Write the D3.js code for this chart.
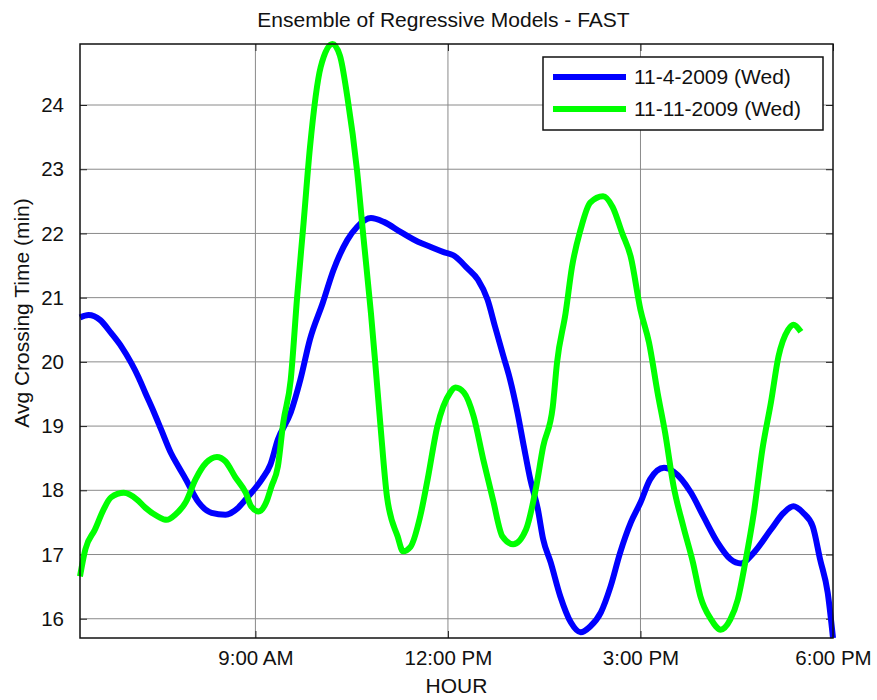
<!DOCTYPE html>
<html>
<head>
<meta charset="utf-8">
<script src="https://cdn.jsdelivr.net/npm/d3@7/dist/d3.min.js"></script>
<style>
  html, body { margin: 0; padding: 0; background: #fff; }
  svg { display: block; font-family: "Liberation Sans", Arial, Helvetica, sans-serif; }
</style>
</head>
<body>
<svg id="chart" width="877" height="700"></svg>
<script>
// Average crossing time, 11-4-2009 (Wed)
const timesNov4 = [
  "6:16","6:24","6:35","6:45","6:55","7:04","7:11","7:17","7:25","7:32",
  "7:41","7:48","7:55","8:07","8:19","8:32","8:44","8:53","9:06","9:14",
  "9:21","9:33","9:42","9:51","10:03","10:13","10:26","10:35","10:48","11:00",
  "11:16","11:32","11:44","11:56","12:05","12:18","12:28","12:37","12:44","12:52",
  "12:58","13:05","13:11","13:17","13:24","13:29","13:36","13:45","13:55","14:04",
  "14:13","14:23","14:32","14:41","14:51","15:00","15:09","15:22","15:31","15:47",
  "15:59","16:12","16:24","16:34","16:46","17:02","17:14","17:23","17:32","17:41",
  "17:48","17:55","18:00"
];
const valuesNov4 = [
  20.69,20.73,20.65,20.45,20.23,19.98,19.75,19.52,19.22,18.94,
  18.58,18.37,18.17,17.81,17.65,17.62,17.73,17.90,18.17,18.40,
  18.79,19.21,19.72,20.35,20.92,21.43,21.90,22.10,22.24,22.18,
  22.02,21.87,21.79,21.71,21.66,21.46,21.28,20.97,20.55,20.08,
  19.73,19.21,18.68,18.17,17.71,17.24,16.88,16.35,15.94,15.79,
  15.88,16.10,16.50,17.03,17.50,17.81,18.17,18.35,18.29,17.97,
  17.59,17.19,16.93,16.86,17.03,17.39,17.65,17.75,17.65,17.44,
  16.92,16.41,15.70
];

// Average crossing time, 11-11-2009 (Wed)
const timesNov11 = [
  "6:16","6:21","6:30","6:38","6:45","6:57","7:09","7:17","7:29","7:37",
  "7:45","7:55","8:04","8:14","8:24","8:32","8:41","8:51","8:56","9:03",
  "9:10","9:15","9:21","9:26","9:33","9:39","9:45","9:51","10:01","10:12",
  "10:19","10:26","10:35","10:41","10:48","10:52","10:57","11:03","11:13","11:18",
  "11:25","11:34","11:41","11:50","12:02","12:07","12:15","12:24","12:33","12:42",
  "12:51","13:01","13:13","13:22","13:29","13:38","13:42","13:50","13:56","14:04",
  "14:13","14:25","14:34","14:43","14:51","15:00","15:08","15:16","15:23","15:31",
  "15:40","15:49","15:56","16:06","16:15","16:24","16:31","16:38","16:46","16:54",
  "17:02","17:09","17:18","17:23","17:30"
];
const valuesNov11 = [
  16.66,17.08,17.39,17.70,17.89,17.96,17.86,17.73,17.59,17.54,
  17.62,17.82,18.17,18.43,18.52,18.45,18.21,17.96,17.75,17.67,
  17.81,18.06,18.37,19.05,19.72,21.01,22.16,23.34,24.59,24.95,
  24.77,24.12,22.98,21.94,20.76,19.99,18.99,17.90,17.28,17.05,
  17.12,17.59,18.17,18.99,19.52,19.60,19.52,19.15,18.48,17.86,
  17.28,17.16,17.39,18.01,18.68,19.30,19.99,20.76,21.48,22.06,
  22.48,22.58,22.41,22.00,21.63,20.81,20.30,19.52,18.90,18.06,
  17.44,16.88,16.35,15.99,15.83,15.99,16.30,16.88,17.65,18.64,
  19.37,20.08,20.50,20.58,20.47
];

const seriesNames = ["11-4-2009 (Wed)", "11-11-2009 (Wed)"];
const seriesColors = ["#0000ff", "#00ff00"];

const xTickHours = [9, 12, 15, 18];
const xTickLabels = ["9:00 AM", "12:00 PM", "3:00 PM", "6:00 PM"];
const yTicks = [16, 17, 18, 19, 20, 21, 22, 23, 24];

const titleText = "Ensemble of Regressive Models - FAST";
const xLabelText = "HOUR";
const yLabelText = "Avg Crossing Time (min)";

// clock string -> decimal hours
const toHours = s => { const [h, m] = s.split(":").map(Number); return h + m / 60; };

const series = [
  { name: seriesNames[0], color: seriesColors[0],
    points: timesNov4.map((t, i) => ({ x: toHours(t), y: valuesNov4[i] })) },
  { name: seriesNames[1], color: seriesColors[1],
    points: timesNov11.map((t, i) => ({ x: toHours(t), y: valuesNov11[i] })) }
];

const svg = d3.select("#chart");
const margin = { left: 80, right: 44, top: 44, bottom: 62 };
const W = 877, H = 700;
const pw = W - margin.left - margin.right;
const ph = H - margin.top - margin.bottom;

const allY = valuesNov4.concat(valuesNov11);
const x = d3.scaleLinear().domain([toHours(timesNov4[0]), 18]).range([0, pw]);
const y = d3.scaleLinear().domain([d3.min(allY), d3.max(allY)]).range([ph, 0]);

const g = svg.append("g").attr("transform", `translate(${margin.left},${margin.top})`);

// grid
g.append("g").selectAll("line").data(yTicks).join("line")
  .attr("x1", 0).attr("x2", pw)
  .attr("y1", d => y(d)).attr("y2", d => y(d))
  .attr("stroke", "#8a8a8a").attr("stroke-width", 1);
g.append("g").selectAll("line").data(xTickHours.filter(h => x(h) < pw - 1)).join("line")
  .attr("x1", d => x(d)).attr("x2", d => x(d))
  .attr("y1", 0).attr("y2", ph)
  .attr("stroke", "#8a8a8a").attr("stroke-width", 1);

// axes: inward ticks on all four sides
const tickLen = 7;
const fontSize = 21;
const tickFont = 20.5;

const xAxisB = d3.axisBottom(x).tickValues(xTickHours)
  .tickFormat((d, i) => xTickLabels[i]).tickSizeInner(-tickLen).tickSizeOuter(0).tickPadding(12);
const gxb = g.append("g").attr("transform", `translate(0,${ph})`).call(xAxisB);
gxb.select(".domain").remove();
gxb.selectAll("text").attr("font-size", tickFont).attr("fill", "#111")
  .attr("font-family", "'Liberation Sans', Arial, sans-serif");
gxb.selectAll("line").attr("stroke", "#222");

const xAxisT = d3.axisTop(x).tickValues(xTickHours).tickFormat("")
  .tickSizeInner(-tickLen).tickSizeOuter(0);
const gxt = g.append("g").call(xAxisT);
gxt.select(".domain").remove();
gxt.selectAll("line").attr("stroke", "#222");

const yAxisL = d3.axisLeft(y).tickValues(yTicks).tickFormat(d3.format("d"))
  .tickSizeInner(-tickLen).tickSizeOuter(0).tickPadding(16);
const gyl = g.append("g").call(yAxisL);
gyl.select(".domain").remove();
gyl.selectAll("text").attr("font-size", tickFont).attr("fill", "#111")
  .attr("font-family", "'Liberation Sans', Arial, sans-serif");
gyl.selectAll("line").attr("stroke", "#222");

const yAxisR = d3.axisRight(y).tickValues(yTicks).tickFormat("")
  .tickSizeInner(-tickLen).tickSizeOuter(0);
const gyr = g.append("g").attr("transform", `translate(${pw},0)`).call(yAxisR);
gyr.select(".domain").remove();
gyr.selectAll("line").attr("stroke", "#222");

// series lines
const line = d3.line().x(d => x(d.x)).y(d => y(d.y)).curve(d3.curveMonotoneX);
g.append("g").selectAll("path").data(series).join("path")
  .attr("d", d => line(d.points))
  .attr("fill", "none")
  .attr("stroke", d => d.color)
  .attr("stroke-width", 6)
  .attr("stroke-linejoin", "round")
  .attr("stroke-linecap", "butt");

// plot frame
g.append("rect").attr("x", 0).attr("y", 0).attr("width", pw).attr("height", ph)
  .attr("fill", "none").attr("stroke", "#111").attr("stroke-width", 1.5);

// legend
const lg = g.append("g").attr("transform", `translate(${463},${13})`);
lg.append("rect").attr("x", 0).attr("y", 0).attr("width", 280).attr("height", 73)
  .attr("fill", "#fff").attr("stroke", "#111").attr("stroke-width", 1.5);
const rows = lg.selectAll("g.row").data(series).join("g").attr("class", "row")
  .attr("transform", (d, i) => `translate(0,${20 + i * 32})`);
rows.append("line").attr("x1", 10).attr("x2", 83).attr("y1", 0).attr("y2", 0)
  .attr("stroke", d => d.color).attr("stroke-width", 6);
rows.append("text").attr("x", 91).attr("y", 0).attr("dy", "0.35em")
  .attr("font-size", fontSize).attr("fill", "#111").text(d => d.name);

// title and axis labels
svg.append("text").attr("x", margin.left + pw / 2 - 13).attr("y", 27)
  .attr("text-anchor", "middle").attr("font-size", fontSize).attr("fill", "#111").text(titleText);
svg.append("text").attr("x", margin.left + pw / 2).attr("y", 693)
  .attr("text-anchor", "middle").attr("font-size", fontSize).attr("fill", "#111").text(xLabelText);
svg.append("text").attr("transform", `translate(29,${margin.top + ph / 2 - 28}) rotate(-90)`)
  .attr("text-anchor", "middle").attr("font-size", fontSize).attr("fill", "#111").text(yLabelText);
</script>
</body>
</html>
